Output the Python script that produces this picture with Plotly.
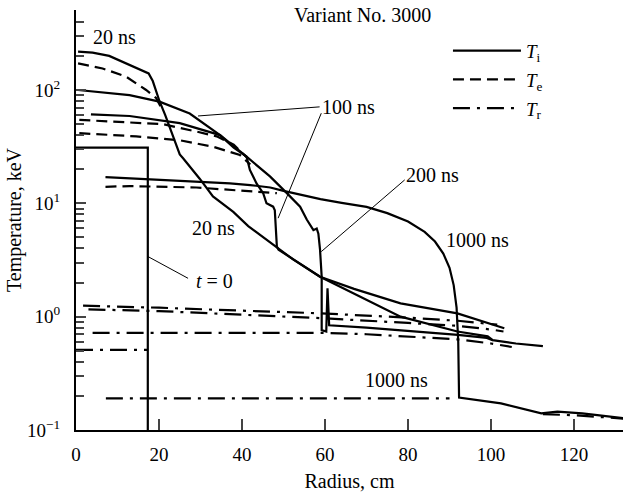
import numpy as np
import plotly.graph_objects as go

# ---------------- data ----------------
# t = 0
ti_0_x = [0, 17.3, 17.3]
ti_0_y = [31, 31, 0.09]
tr_0_x = [0, 17.3]
tr_0_y = [0.51, 0.51]

# 20 ns
ti_20_x = [0.5, 4, 8, 12, 14.6, 16.5, 17.5, 18.5, 20.1, 21.5, 22.6, 24, 25, 25.8, 29.8, 33, 37.9, 41.5,
           48.7, 52.3, 58.8, 67, 78.2, 91.9, 99.2, 100.4, 106, 112.5]
ti_20_y = [218, 214, 200, 172, 155, 146, 140, 120, 80, 60, 47, 34, 27, 25, 16.5, 11.5, 8.4, 6.3,
           4.0, 3.2, 2.25, 1.6, 1.0, 0.74, 0.67, 0.62, 0.58, 0.55]
te_20_x = [0.5, 6.4, 12.1, 16.9, 19.3, 21.0]
te_20_y = [172, 155, 131, 100, 85, 65]
tr_20_x = [1.7, 20, 40, 59, 80, 92, 101.5]
tr_20_y = [1.25, 1.2, 1.13, 1.07, 0.98, 0.92, 0.85]

# 100 ns
ti_100_x = [0.5, 12.9, 20.1, 27.4, 34.7, 38, 41.1, 41.9, 43.5, 45.1, 45.9, 47.5, 47.9, 48.4, 48.8,
            52.3, 58.8, 67, 78.2, 91.9, 101.6, 103.2]
ti_100_y = [100, 90, 79, 62, 40, 31, 25.8, 19.7, 15, 12.3, 10, 9.35, 8.7, 4.15, 3.9,
            3.2, 2.25, 1.76, 1.31, 1.07, 0.82, 0.79]
te_100_x = [0.8, 14.5, 25, 33, 39.5, 42]
te_100_y = [41.6, 39, 36, 31.6, 26.7, 22]
tr_100_x = [3, 20, 40, 59, 80, 92, 100, 103]
tr_100_y = [1.16, 1.12, 1.04, 0.97, 0.88, 0.83, 0.77, 0.74]

# 200 ns
ti_200_x = [3.6, 12.9, 25, 34.7, 41.1, 46.8, 50.8, 54, 55.6, 57.2, 58.0, 58.4, 58.8, 59.2, 59.2,
            59.8, 60.3, 60.6, 61.0, 70, 80, 92, 99, 100.4]
ti_200_y = [61, 59, 51, 40, 25.8, 17.2, 12.3, 9.35, 7.2, 5.8, 6.0, 5.4, 3.9, 2.25, 0.76,
            0.75, 0.74, 1.78, 0.84, 0.8, 0.75, 0.69, 0.65, 0.62]
te_200_x = [0.8, 14.5, 20.9, 29, 33.9, 38, 41.1]
te_200_y = [54.5, 51, 50, 43, 39, 33, 25.5]
tr_200_x = [4, 40, 59, 70, 92, 100, 105]
tr_200_y = [0.72, 0.72, 0.72, 0.7, 0.63, 0.58, 0.54]

# 1000 ns
ti_1000_x = [7.1, 12.9, 20, 29.8, 37.1, 42, 46.8, 50, 54, 58.9, 64, 70, 75, 80, 84, 86.5, 88.5, 90,
             91, 91.7, 92.1, 92.3, 102.4, 112.1, 116, 122, 132]
ti_1000_y = [17, 16.6, 16.1, 15.5, 15.0, 14.5, 13.8, 12.9, 11.9, 10.9, 10.1, 9.3, 8.2, 6.9, 5.6, 4.6, 3.6, 2.7,
             1.9, 1.2, 0.6, 0.193, 0.172, 0.14, 0.145, 0.14, 0.127]
te_1000_x = [7.1, 12.9, 29, 37.1, 48.4]
te_1000_y = [14, 14.2, 13.8, 13.1, 12.3]
tr_1000_x = [7.2, 90, None, 112.5, 120, 132]
tr_1000_y = [0.19, 0.19, None, 0.138, 0.135, 0.126]

# leader lines (start, end)
pointer_x = [[58.7, 29.4], [59.1, 48.7], [79.2, 59.1], [27.0, 17.35]]
pointer_y = [[71.0, 59.0], [62.4, 7.4], [16.1, 3.75], [2.18, 3.39]]

# text labels
label_text = ["20 ns", "Variant No. 3000", "100 ns", "200 ns", "1000 ns", "20 ns", "<i>t</i> = 0", "1000 ns"]
label_x = [9.35, 69.0, 65.6, 86.0, 96.8, 33.2, 33.4, 77.2]
label_y = [294, 460, 71, 17.8, 4.75, 6.07, 2.07, 0.276]

x_ticks = [0, 20, 40, 60, 80, 100, 120]
y_major = [0.1, 1, 10, 100]
y_major_text = ["10<sup>−1</sup>", "10<sup>0</sup>", "10<sup>1</sup>", "10<sup>2</sup>"]

# ---------------- figure ----------------
FONT = "Liberation Serif"
fig = go.Figure()

DASH_E = "11px,6px"
DASH_R = "17px,7px,3px,7px"
LW = 2.2

def add(x, y, dash, name=None, show=False):
    fig.add_trace(go.Scatter(x=x, y=y, mode="lines", line=dict(color="black", width=LW, dash=dash),
                             name=name, showlegend=show, legendgroup=name if show else None,
                             connectgaps=False, hoverinfo="skip"))

add(ti_20_x, ti_20_y, "solid", "<i>T</i><sub>i</sub>", True)
add(te_20_x, te_20_y, DASH_E, "<i>T</i><sub>e</sub>", True)
add(tr_20_x, tr_20_y, DASH_R, "<i>T</i><sub>r</sub>", True)
for xs, ys, d in [(ti_0_x, ti_0_y, "solid"), (tr_0_x, tr_0_y, DASH_R),
                  (ti_100_x, ti_100_y, "solid"), (te_100_x, te_100_y, DASH_E), (tr_100_x, tr_100_y, DASH_R),
                  (ti_200_x, ti_200_y, "solid"), (te_200_x, te_200_y, DASH_E), (tr_200_x, tr_200_y, DASH_R),
                  (ti_1000_x, ti_1000_y, "solid"), (te_1000_x, te_1000_y, DASH_E), (tr_1000_x, tr_1000_y, DASH_R)]:
    add(xs, ys, d)

for px_, py_ in zip(pointer_x, pointer_y):
    fig.add_trace(go.Scatter(x=px_, y=py_, mode="lines", line=dict(color="black", width=1),
                             showlegend=False, hoverinfo="skip"))

for t, x, y in zip(label_text, label_x, label_y):
    fig.add_annotation(text=t, x=x, y=np.log10(y), xref="x", yref="y", showarrow=False,
                       font=dict(family=FONT, size=20, color="black"))

fig.update_layout(
    width=623, height=495,
    margin=dict(l=76, r=0, t=10, b=65),
    paper_bgcolor="white", plot_bgcolor="white",
    font=dict(family=FONT, size=19, color="black"),
    legend=dict(x=0.68, y=0.948, xanchor="left", yanchor="top", bgcolor="rgba(0,0,0,0)",
                font=dict(family=FONT, size=19), itemwidth=68, traceorder="grouped", tracegroupgap=1),
    xaxis=dict(range=[0, 131.8], tickvals=x_ticks, ticks="inside", ticklen=11, tickwidth=1.5,
               showline=True, linewidth=2, linecolor="black", showgrid=False, zeroline=False,
               title=dict(text="Radius, cm", font=dict(size=20), standoff=10),
               ticklabelstandoff=6, automargin=False),
    yaxis=dict(type="log", range=[-1, 2.706], tickvals=y_major, ticktext=y_major_text,
               ticks="inside", ticklen=10, tickwidth=1.5,
               minor=dict(tickvals=[v * m for v in [0.1, 1, 10, 100] for m in range(2, 10)],
                          ticks="inside", ticklen=8, tickwidth=1.5, showgrid=False),
               showline=True, linewidth=2, linecolor="black", showgrid=False, zeroline=False,
               title=dict(text="Temperature, keV", font=dict(size=20), standoff=0),
               ticklabelstandoff=10, automargin=False),
)

fig.write_html("out.html")
